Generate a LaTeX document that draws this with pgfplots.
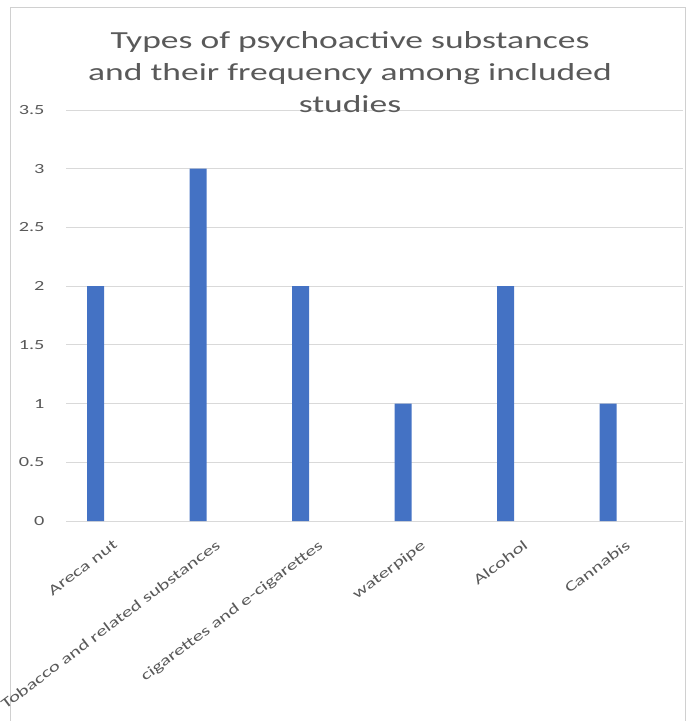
\documentclass[border=0pt]{standalone}
\usepackage{pgfplots}
\pgfplotsset{compat=1.18}
\usepackage{fontspec}
\setmainfont{Carlito}[FakeStretch=1.45]
\definecolor{barblue}{HTML}{4472C4}
\definecolor{gridgray}{HTML}{D9D9D9}
\definecolor{txtgray}{HTML}{595959}
\definecolor{framegray}{HTML}{D0D0D0}
\begin{document}
\begin{tikzpicture}[x=1pt,y=1pt]
\useasboundingbox (0,0) rectangle (691,721);
\draw[framegray, line width=1pt] (10,0) -- (10,713) -- (685,713) -- (685,0);
\begin{axis}[
  at={(66pt,200pt)}, anchor=south west,
  scale only axis, width=617pt, height=411pt,
  ymin=0, ymax=3.5, ytick={0,0.5,...,3.5},
  xmin=-0.29, xmax=5.73,
  xtick={0,1,2,3,4,5},
  xticklabels={Areca nut, Tobacco and related substances, cigarettes and e-cigarettes, waterpipe, Alcohol, Cannabis},
  axis line style={draw=none},
  major tick length=0pt,
  ymajorgrids, grid style={gridgray, line width=0.9pt},
  /pgf/number format/assume math mode=true,
  yticklabel style={font=\fontsize{14}{16}\selectfont, text=txtgray, anchor=east, xshift=-18pt},
  xticklabel style={font=\fontsize{14.5}{16}\selectfont, text=txtgray, xshift=17pt, yshift=-18pt, rotate=37, anchor=north east, inner sep=0pt},
  yticklabel={\pgfmathprintnumber[fixed, precision=1]{\tick}},
]
\addplot[ybar, bar width=17pt, fill=barblue, draw=none] coordinates {(0,2) (1,3) (2,2) (3,1) (4,2) (5,1)};
\end{axis}
\node[align=center, text=txtgray, font=\fontsize{24.5}{32}\selectfont] at (350,649) {Types of psychoactive substances\\and their frequency among included\\studies};
\end{tikzpicture}
\end{document}
